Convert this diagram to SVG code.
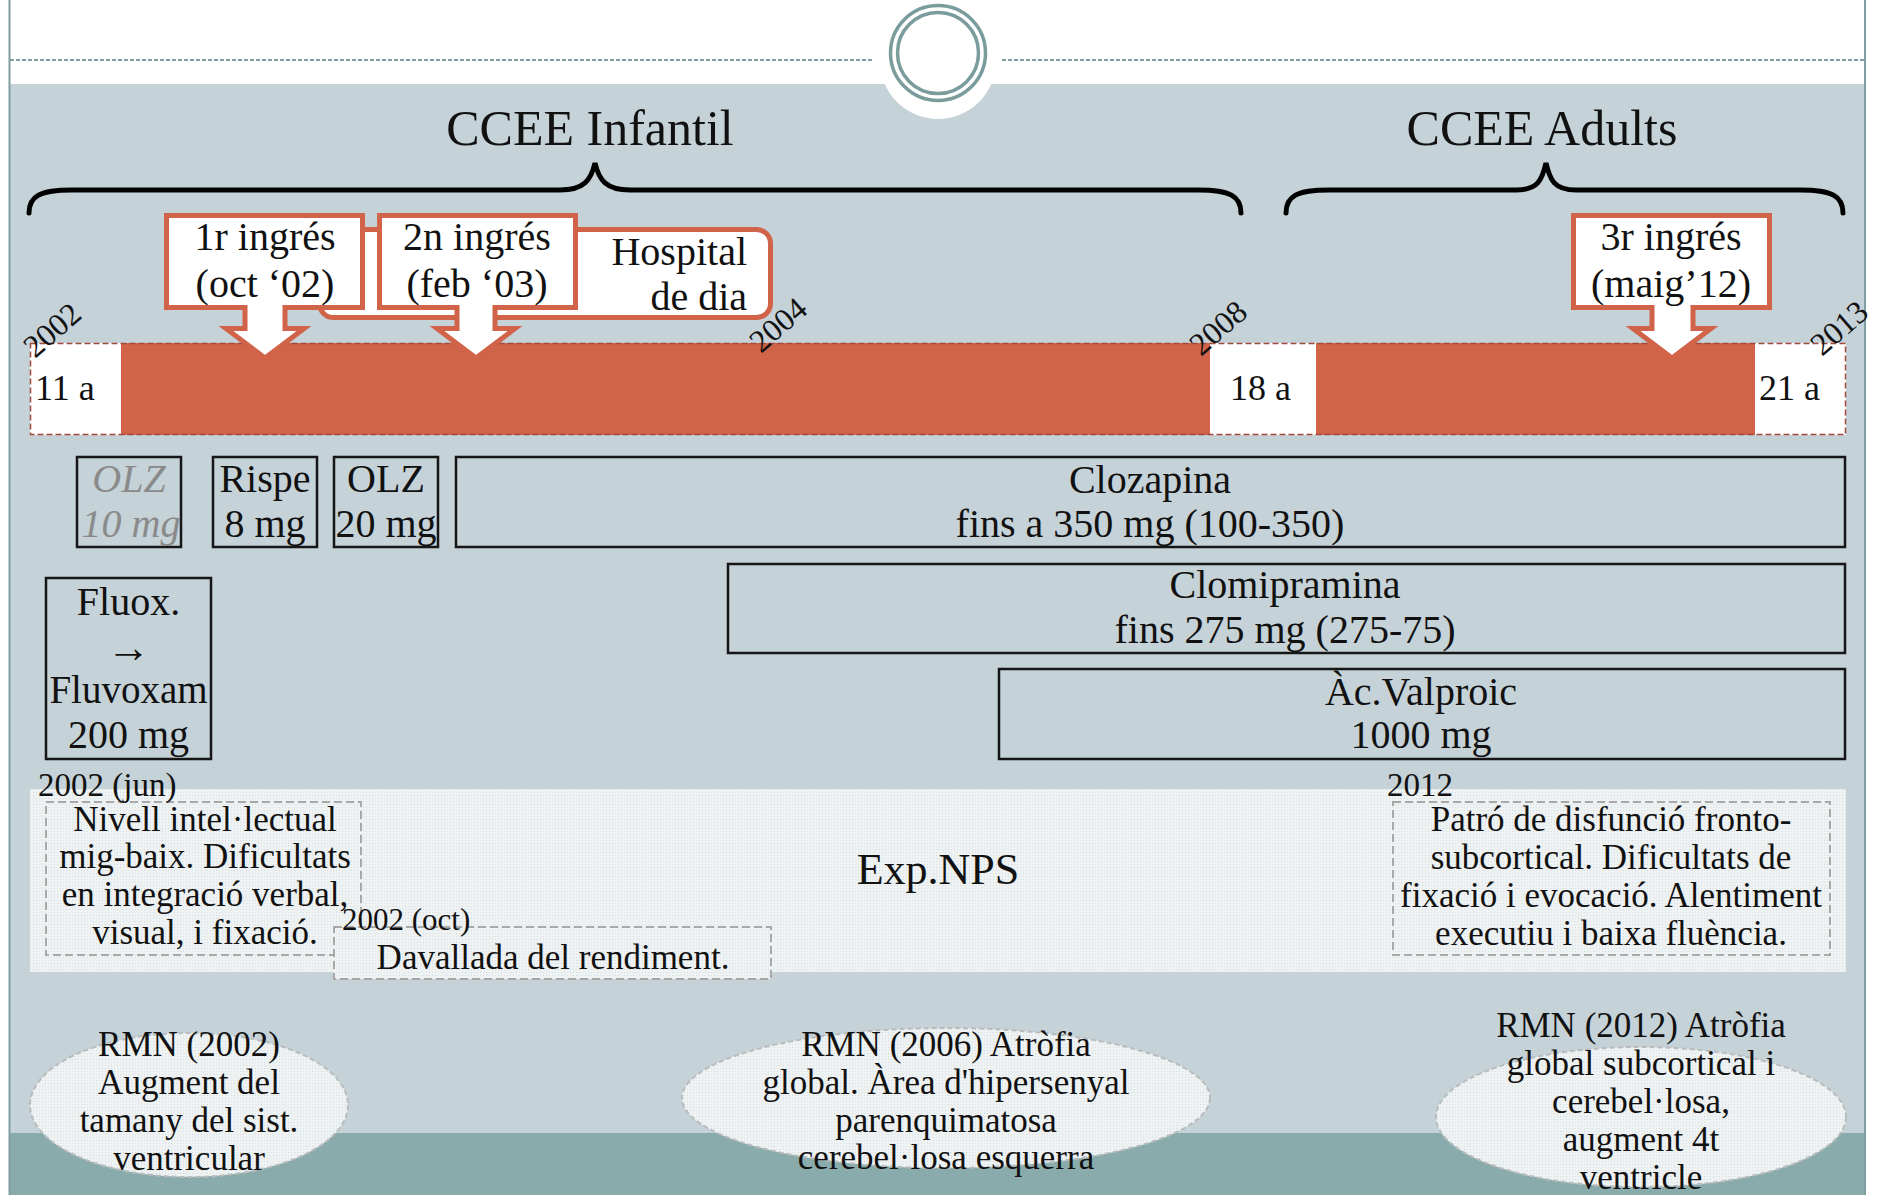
<svg xmlns="http://www.w3.org/2000/svg" width="1890" height="1195" viewBox="0 0 1890 1195">
<style>
text{font-family:"Liberation Serif","DejaVu Serif",serif;fill:#111}
.title{font-size:50px;text-anchor:middle}
.call{font-size:40px;text-anchor:middle}
.callout{fill:#fff;stroke:#D16349;stroke-width:5;stroke-linejoin:miter}
.yr{font-size:32px}
.age{font-size:36px}
.med{font-size:40px;text-anchor:middle}
.medbox{fill:none;stroke:#161616;stroke-width:2.5}
.exp{font-size:35px;text-anchor:middle}
.lbl{font-size:33px}
.dbox{fill:url(#tex);stroke:#A8A8A8;stroke-width:2;stroke-dasharray:8 4}
.ell{fill:url(#tex);stroke:#B9BCBD;stroke-width:2;stroke-dasharray:5 3}
.brace{fill:none;stroke:#000;stroke-width:5;stroke-linecap:round}
</style>
<defs>
<pattern id="tex" width="3" height="3" patternUnits="userSpaceOnUse">
<rect width="3" height="3" fill="#EEF2F3"/>
<rect width="1" height="1" fill="#D6DEE1"/>
</pattern>
</defs>
<!-- background -->
<rect x="0" y="0" width="1890" height="1195" fill="#fff"/>
<rect x="10" y="84" width="1855" height="1049" fill="#C5D2D8"/>
<rect x="10" y="1133" width="1855" height="62" fill="#8AABAB"/>
<line x1="9.5" y1="0" x2="9.5" y2="1195" stroke="#7E9EA0" stroke-width="2"/>
<line x1="1865" y1="0" x2="1865" y2="1195" stroke="#7E9EA0" stroke-width="2"/>
<line x1="10" y1="60" x2="874" y2="60" stroke="#7E9EA0" stroke-width="2" stroke-dasharray="4 2"/>
<line x1="1002" y1="60" x2="1865" y2="60" stroke="#7E9EA0" stroke-width="2" stroke-dasharray="4 2"/>
<circle cx="938" cy="61" r="58" fill="#fff"/>
<circle cx="938" cy="53" r="47.5" fill="none" stroke="#7A9C9C" stroke-width="3.5"/>
<circle cx="938" cy="53" r="40.5" fill="none" stroke="#7A9C9C" stroke-width="3.5"/>

<g id="title-infantil">
<text class="title" x="590" y="145">CCEE Infantil</text>
<path class="brace" d="M29,213 C29,196 40,190 72,190 L560,190 C584,190 591,180 595,163 C599,180 606,190 630,190 L1198,190 C1230,190 1241,196 1241,213"/>
</g>
<g id="title-adults">
<text class="title" x="1542" y="145">CCEE Adults</text>
<path class="brace" d="M1286,213 C1286,196 1297,190 1329,190 L1516,190 C1538,190 1542,180 1546,163 C1550,180 1554,190 1576,190 L1800,190 C1832,190 1843,196 1843,213"/>
</g>

<g id="timeline-bar">
<rect x="30" y="343" width="1816" height="92" fill="#D16349"/>
<rect x="30" y="343" width="91" height="92" fill="#fff"/>
<rect x="1210" y="343" width="106" height="92" fill="#fff"/>
<rect x="1755" y="343" width="91" height="92" fill="#fff"/>
<rect x="30.5" y="343.5" width="1815" height="91" fill="none" stroke="#A14A3C" stroke-width="1.5" stroke-dasharray="6 3"/>
<text class="age" x="35" y="400">11 a</text>
<text class="age" x="1230" y="400">18 a</text>
<text class="age" x="1759" y="400">21 a</text>
</g>

<g id="hospital-dia">
<rect x="319.5" y="229.5" width="451" height="88" rx="14" fill="#fff" stroke="#D16349" stroke-width="5"/>
<text class="call" x="747" y="265" style="text-anchor:end">Hospital</text>
<text class="call" x="747" y="310" style="text-anchor:end">de dia</text>
</g>
<g id="ingres-1">
<path class="callout" d="M166.5,215.5 H362.5 V307.5 H285 V328.5 H304 L265,358 L226,328.5 H245 V307.5 H166.5 Z"/>
<text class="call" x="265" y="250">1r ingrés</text>
<text class="call" x="265" y="297">(oct ‘02)</text>
</g>
<g id="ingres-2">
<path class="callout" d="M379.5,215.5 H575.5 V307.5 H495 V328.5 H515 L476,358 L437,328.5 H457 V307.5 H379.5 Z"/>
<text class="call" x="477" y="250">2n ingrés</text>
<text class="call" x="477" y="297">(feb ‘03)</text>
</g>
<g id="ingres-3">
<path class="callout" d="M1573.5,215.5 H1769.5 V307.5 H1693 V328.5 H1711 L1672,358 L1633,328.5 H1652 V307.5 H1573.5 Z"/>
<text class="call" x="1671" y="250">3r ingrés</text>
<text class="call" x="1671" y="297">(maig’12)</text>
</g>

<g id="years">
<text class="yr" x="35" y="359" transform="rotate(-41 35 359)">2002</text>
<text class="yr" x="761" y="354" transform="rotate(-41 761 354)">2004</text>
<text class="yr" x="1201" y="357" transform="rotate(-41 1201 357)">2008</text>
<text class="yr" x="1822" y="357" transform="rotate(-41 1822 357)">2013</text>
</g>

<g id="olz10">
<rect class="medbox" x="77" y="457" width="104" height="90"/>
<text class="med" x="129" y="492" style="fill:#8A8A8A;font-style:italic">OLZ</text>
<text class="med" x="131" y="537" style="fill:#8A8A8A;font-style:italic">10 mg</text>
</g>
<g id="rispe">
<rect class="medbox" x="213" y="457" width="104" height="90"/>
<text class="med" x="265" y="492">Rispe</text>
<text class="med" x="265" y="537">8 mg</text>
</g>
<g id="olz20">
<rect class="medbox" x="334" y="457" width="104" height="90"/>
<text class="med" x="386" y="492">OLZ</text>
<text class="med" x="386" y="537">20 mg</text>
</g>
<g id="clozapina">
<rect class="medbox" x="456" y="457" width="1389" height="90"/>
<text class="med" x="1150" y="493">Clozapina</text>
<text class="med" x="1150" y="537">fins a 350 mg (100-350)</text>
</g>
<g id="clomipramina">
<rect class="medbox" x="728" y="564" width="1117" height="89"/>
<text class="med" x="1285" y="598">Clomipramina</text>
<text class="med" x="1285" y="643">fins 275 mg (275-75)</text>
</g>
<g id="valproic">
<rect class="medbox" x="999" y="669" width="846" height="90"/>
<text class="med" x="1421" y="705">Àc.Valproic</text>
<text class="med" x="1421" y="748">1000 mg</text>
</g>
<g id="fluox">
<rect class="medbox" x="46" y="578" width="165" height="181"/>
<text class="med" x="128.5" y="615">Fluox.</text>
<text class="med" x="128.5" y="662" style="font-size:44px">→</text>
<text class="med" x="128.5" y="703" style="font-size:39px">Fluvoxam</text>
<text class="med" x="128.5" y="748">200 mg</text>
</g>

<g id="exp-nps">
<rect x="30" y="789" width="1816" height="183" fill="url(#tex)"/>
<text x="938" y="884" style="font-size:44px;text-anchor:middle">Exp.NPS</text>
</g>
<g id="exp-2002-jun">
<rect class="dbox" x="46" y="802" width="315" height="153"/>
<text class="lbl" x="38" y="796">2002 (jun)</text>
<text class="exp" x="205" y="831">Nivell intel·lectual</text>
<text class="exp" x="205" y="868">mig-baix. Dificultats</text>
<text class="exp" x="205" y="906">en integració verbal,</text>
<text class="exp" x="205" y="944">visual, i fixació.</text>
</g>
<g id="exp-2002-oct">
<rect class="dbox" x="334" y="927" width="437" height="52"/>
<text class="lbl" x="342" y="930" style="font-size:31px">2002 (oct)</text>
<text class="exp" x="553" y="969">Davallada del rendiment.</text>
</g>
<g id="exp-2012">
<rect class="dbox" x="1393" y="802" width="437" height="153"/>
<text class="lbl" x="1387" y="796">2012</text>
<text class="exp" x="1611" y="831">Patró de disfunció fronto-</text>
<text class="exp" x="1611" y="869">subcortical. Dificultats de</text>
<text class="exp" x="1611" y="907">fixació i evocació. Alentiment</text>
<text class="exp" x="1611" y="945">executiu i baixa fluència.</text>
</g>

<g id="rmn-2002">
<ellipse class="ell" cx="189" cy="1105" rx="159" ry="72"/>
<text class="exp" x="189" y="1056">RMN (2002)</text>
<text class="exp" x="189" y="1094">Augment del</text>
<text class="exp" x="189" y="1132">tamany del sist.</text>
<text class="exp" x="189" y="1170">ventricular</text>
</g>
<g id="rmn-2006">
<ellipse class="ell" cx="946" cy="1098" rx="264" ry="70"/>
<text class="exp" x="946" y="1056">RMN (2006) Atròfia</text>
<text class="exp" x="946" y="1094">global. Àrea d'hipersenyal</text>
<text class="exp" x="946" y="1132">parenquimatosa</text>
<text class="exp" x="946" y="1169">cerebel·losa esquerra</text>
</g>
<g id="rmn-2012">
<ellipse class="ell" cx="1641" cy="1117" rx="205" ry="70"/>
<text class="exp" x="1641" y="1037">RMN (2012) Atròfia</text>
<text class="exp" x="1641" y="1075">global subcortical i</text>
<text class="exp" x="1641" y="1113">cerebel·losa,</text>
<text class="exp" x="1641" y="1151">augment 4t</text>
<text class="exp" x="1641" y="1189">ventricle</text>
</g>
<g id="connectors"></g>
</svg>
